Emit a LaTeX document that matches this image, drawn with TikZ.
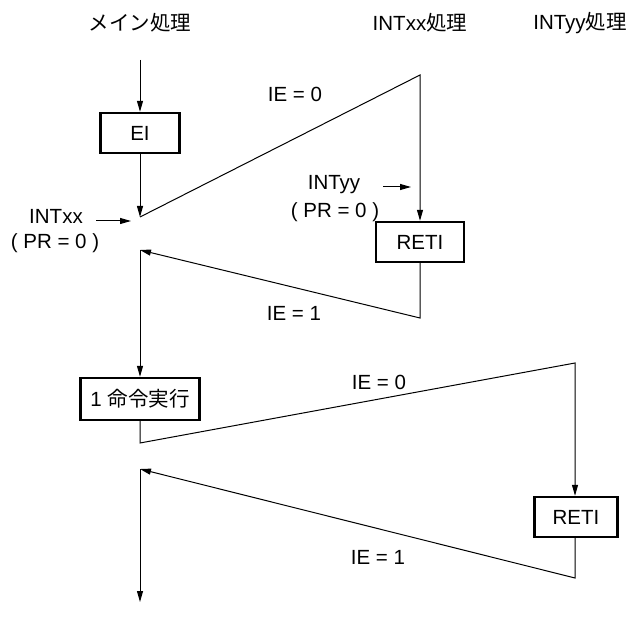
\documentclass[tikz,border=0pt]{standalone}
\usepackage{fontspec}
\setmainfont{Liberation Sans}
\newfontfamily\jpfont{Noto Sans CJK JP}
\usepackage{tikz}
\usetikzlibrary{arrows.meta,calc,positioning}
\definecolor{ink}{HTML}{000000}

\begin{document}
\begin{tikzpicture}[x=1pt,y=-1pt,
    font=\fontsize{20.5}{24}\selectfont,
    flow/.style={draw=ink,line width=1pt},
    arr/.style={flow,-{Triangle[length=11pt,width=6pt]}},
    procbox/.style={draw=ink,line width=2.4pt,minimum height=40pt,inner sep=0pt,fill=white},
    lbl/.style={inner sep=1pt}]
  \useasboundingbox (0,0) rectangle (639,617);
  % column headers
  \node[lbl] (hmain) at (140,23) {\jpfont メイン処理};
  \node[lbl] (hxx) at (420,23) {INTxx{\jpfont 処理}};
  \node[lbl] (hyy) at (580,23) {INTyy{\jpfont 処理}};
  % boxes
  \node[procbox,minimum width=79pt] (ei) at (140,133) {EI};
  \node[procbox,minimum width=88pt] (reti1) at (420,242) {RETI};
  \node[procbox,minimum width=119pt,minimum height=42pt] (cmd) at (140,399) {1 {\jpfont 命令実行}};
  \node[procbox,minimum width=83pt] (reti2) at (576,517) {RETI};
  % turning points
  \coordinate (start) at (140,60);
  \coordinate (xin) at (140,217); \coordinate (xtop) at (420,75);
  \coordinate (xbot) at (420,318); \coordinate (xret) at (140,250);
  \coordinate (yin) at (140,443); \coordinate (ytop) at (575,363);
  \coordinate (ybot) at (575,578); \coordinate (yret) at (140,469);
  \coordinate (fin) at (140,602);
  % main flow
  \draw[arr] (start) -- (ei.north);
  \draw[arr] (ei.south) -- (xin);
  \draw[arr] (xin) -- (xtop) -- (reti1.north);
  \draw[arr] (reti1.south) -- (xbot) -- (xret);
  \draw[arr] (xret) -- (cmd.north);
  \draw[arr] (cmd.south) -- (yin) -- (ytop) -- (reti2.north -| ytop);
  \draw[arr] (reti2.south -| ybot) -- (ybot) -- (yret);
  \draw[arr] (yret) -- (fin);
  % interrupt requests
  \node[lbl] (intxx) at (56,216) {INTxx};
  \node[lbl] (prxx) at (55,243) {( PR = 0 )};
  \coordinate (xa) at (96,221); \coordinate (xb) at (131,221);
  \draw[arr] (xa) -- (xb);
  \node[lbl] (intyy) at (334,185) {INTyy};
  \node[lbl] (pryy) at (335,212) {( PR = 0 )};
  \coordinate (ya) at (383,187); \coordinate (yb) at (411,187);
  \draw[arr] (ya) -- (yb);
  % flag states
  \node[lbl] (ie0a) at (295,94) {IE = 0};
  \node[lbl] (ie1a) at (294,313) {IE = 1};
  \node[lbl] (ie0b) at (379,382) {IE = 0};
  \node[lbl] (ie1b) at (378,557) {IE = 1};
\end{tikzpicture}
\end{document}
